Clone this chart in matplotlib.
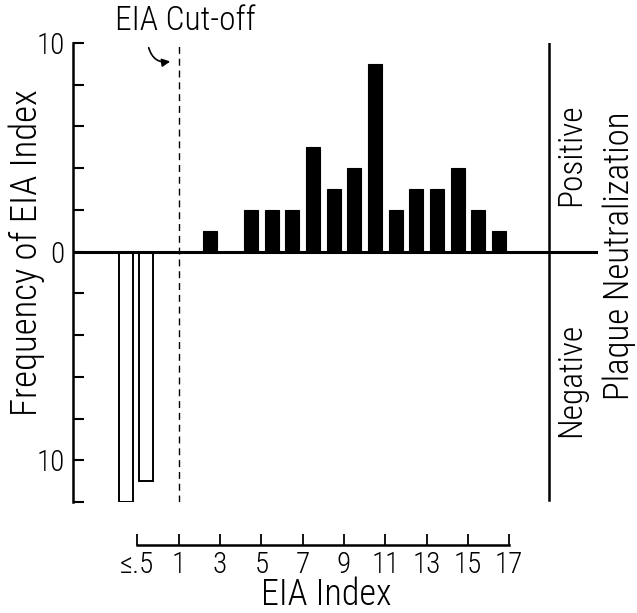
import numpy as np
import matplotlib as mpl
import matplotlib.pyplot as plt

mpl.rcParams['font.family'] = ['Roboto Condensed', 'DejaVu Sans']
mpl.rcParams['font.stretch'] = 'condensed'
mpl.rcParams['font.weight'] = 'light'

# positive plaque neutralization (bins centred on half units)
pos_x = [2.5, 4.5, 5.5, 6.5, 7.5, 8.5, 9.5, 10.5, 11.5, 12.5, 13.5, 14.5, 15.5, 16.5]
pos_n = [1, 2, 2, 2, 5, 3, 4, 9, 2, 3, 3, 4, 2, 1]

# negative plaque neutralization (drawn downwards)
neg_x = [-1.55, -0.6]
neg_n = [12, 11]

cutoff = 1
x_ticks = [-1, 1, 3, 5, 7, 9, 11, 13, 15, 17]
x_labels = ['≤.5', '1', '3', '5', '7', '9', '11', '13', '15', '17']
y_ticks = [-12, -10, -8, -6, -4, -2, 0, 2, 4, 6, 8, 10]
y_labels = ['', '10', '', '', '', '', '0', '', '', '', '', '10']

W, H = 637, 613
fig = plt.figure(figsize=(W / 100, H / 100), dpi=100)

def fx(px):
    return px / W

def fy(py):
    return (H - py) / H

L, R, T, B = 73, 598, 43, 502
ax = fig.add_axes([fx(L), fy(B), fx(R) - fx(L), fy(T) - fy(B)])
ax.set_xlim(-4.12, 21.3)
ax.set_ylim(-12, 10)

ax.bar(pos_x, pos_n, width=0.68, color='black', edgecolor='black', linewidth=0.8)
ax.bar(neg_x, [-v for v in neg_n], width=0.68, color='white', edgecolor='black', linewidth=1.4)

ax.axhline(0, color='black', lw=2.2, zorder=3)
ax.axvline(cutoff, ymin=0, ymax=1, color='black', lw=1.0, ls=(0, (5, 3.5)))
ax.axvline(18.92, ymin=0.005, ymax=1, color='black', lw=1.8)

for s in ['top', 'right', 'bottom']:
    ax.spines[s].set_visible(False)
ax.spines['left'].set_linewidth(1.8)
ax.set_xticks([])
ax.set_yticks(y_ticks)
ax.set_yticklabels(y_labels, fontsize=21)
ax.tick_params(axis='y', direction='in', length=8, width=1.5, pad=6)

# separate index axis below the plot
ax2 = fig.add_axes([fx(L), fy(545), fx(R) - fx(L), 0.0001])
ax2.set_xlim(ax.get_xlim())
ax2.set_yticks([])
for s in ['top', 'right', 'left']:
    ax2.spines[s].set_visible(False)
ax2.spines['bottom'].set_bounds(-1, 17)
ax2.spines['bottom'].set_linewidth(1.8)
ax2.set_xticks(x_ticks)
ax2.set_xticklabels(x_labels, fontsize=21)
ax2.tick_params(axis='x', direction='in', length=8, width=1.3, pad=4)
ax2.patch.set_visible(False)

fig.text(fx(326), fy(595), 'EIA Index', fontsize=26, ha='center', va='center')
fig.text(fx(27), fy(253), 'Frequency of EIA Index', fontsize=26.5, rotation=90,
         ha='center', va='center')
fig.text(fx(185), fy(21), 'EIA Cut-off', fontsize=24, ha='center', va='center')
fig.text(fx(571), fy(155), 'Positive', fontsize=24, rotation=90, ha='center', va='center')
fig.text(fx(571), fy(380), 'Negative', fontsize=24, rotation=90, ha='center', va='center')
fig.text(fx(619), fy(256), 'Plaque Neutralization', fontsize=25, rotation=90,
         ha='center', va='center')

ax.annotate('', xy=(173, H - 61), xycoords='figure pixels',
            xytext=(148, H - 45), textcoords='figure pixels',
            arrowprops=dict(arrowstyle='-|>', color='black', lw=1.2,
                            connectionstyle='arc3,rad=0.5', mutation_scale=12))

fig.savefig('out.png', dpi=100)
